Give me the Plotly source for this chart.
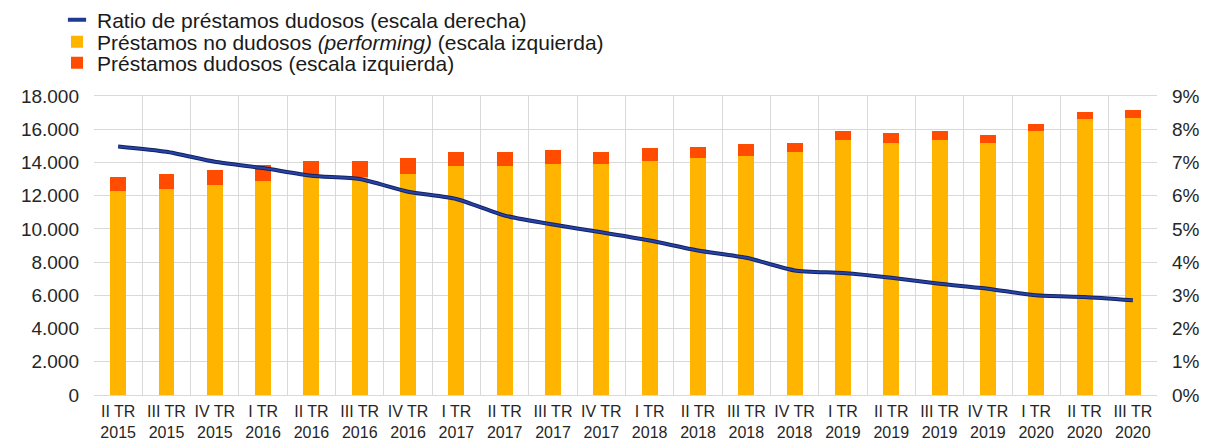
import plotly.graph_objects as go

quarters = ["II TR<br>2015", "III TR<br>2015", "IV TR<br>2015",
            "I TR<br>2016", "II TR<br>2016", "III TR<br>2016", "IV TR<br>2016",
            "I TR<br>2017", "II TR<br>2017", "III TR<br>2017", "IV TR<br>2017",
            "I TR<br>2018", "II TR<br>2018", "III TR<br>2018", "IV TR<br>2018",
            "I TR<br>2019", "II TR<br>2019", "III TR<br>2019", "IV TR<br>2019",
            "I TR<br>2020", "II TR<br>2020", "III TR<br>2020"]

performing = [12300, 12400, 12650, 12900, 13200, 13150, 13300,
              13780, 13780, 13900, 13900, 14100, 14240, 14360, 14600,
              15340, 15200, 15340, 15200, 15900, 16600, 16700]

npl = [850, 900, 900, 960, 900, 950, 960,
       860, 820, 840, 700, 740, 720, 740, 600,
       560, 600, 560, 460, 440, 460, 460]

npl_ratio = [7.48, 7.32, 7.02, 6.83, 6.60, 6.50, 6.12,
             5.90, 5.40, 5.13, 4.90, 4.65, 4.35, 4.13, 3.75,
             3.67, 3.53, 3.35, 3.20, 3.00, 2.95, 2.85]

names = ["Ratio de préstamos dudosos (escala derecha)",
         "Préstamos no dudosos <i>(performing)</i> (escala izquierda)",
         "Préstamos dudosos (escala izquierda)"]

FONT = "Liberation Sans, Arial, sans-serif"
GRID = "#d9d9d9"
TXT = "#262626"
BLUE = "#1f3a93"

fig = go.Figure()

fig.add_trace(go.Bar(
    x=quarters, y=performing, name=names[1], legend="legend2",
    marker=dict(color="#FFB400", line=dict(width=0)), width=0.33,
))
fig.add_trace(go.Bar(
    x=quarters, y=npl, name=names[2], legend="legend3",
    marker=dict(color="#FF4C00", line=dict(width=0)), width=0.33,
))
fig.add_trace(go.Scatter(
    x=quarters, y=npl_ratio, yaxis="y2", mode="lines", showlegend=False,
    line=dict(color="#13235a", width=4, shape="spline", smoothing=0.6),
))
fig.add_trace(go.Scatter(
    x=quarters, y=npl_ratio, yaxis="y2", mode="lines", showlegend=False,
    line=dict(color="#2643ad", width=2, shape="spline", smoothing=0.6),
))
# legend entry for the ratio line (short dash symbol)
fig.add_trace(go.Scatter(
    x=[None], y=[None], yaxis="y2", mode="markers", name=names[0],
    legend="legend",
    marker=dict(symbol="line-ew", size=13, color=BLUE, line=dict(width=4, color=BLUE)),
))

OFF = 8  # page offset


def leg(row_y):
    return dict(
        xref="container", yref="container",
        x=(57 - OFF) / 1212, y=1 - (row_y - OFF) / 447,
        xanchor="left", yanchor="middle",
        font=dict(family=FONT, size=21, color="#1a1a1a"),
        bgcolor="rgba(0,0,0,0)", borderwidth=0, itemwidth=30,
    )


fig.update_layout(
    width=1212, height=447,
    margin=dict(l=94 - OFF, r=1212 + OFF - 1157, t=96 - OFF, b=447 + OFF - 395,
                autoexpand=False),
    paper_bgcolor="white", plot_bgcolor="white",
    barmode="stack",
    separators=",.",
    font=dict(family=FONT, size=16, color=TXT),
    showlegend=True,
    legend=leg(20),
    legend2=leg(42),
    legend3=leg(63),
    xaxis=dict(
        type="category", tickson="boundaries", tickangle=0, automargin=False,
        showgrid=True, gridcolor=GRID, gridwidth=1,
        showline=True, linecolor=GRID, mirror=True,
        ticks="", tickfont=dict(family=FONT, size=16, color=TXT),
        ticklabelstandoff=2,
        range=[-0.5, 21.5],
    ),
    yaxis=dict(
        range=[0, 18000], dtick=2000, tickformat=",d", automargin=False,
        showgrid=True, gridcolor=GRID, gridwidth=1,
        zeroline=False, showline=False, ticks="",
        tickfont=dict(family=FONT, size=19, color=TXT),
        ticklabelstandoff=14,
    ),
    yaxis2=dict(
        range=[0, 9], dtick=1, ticksuffix="%", overlaying="y", side="right",
        automargin=False,
        showgrid=False, zeroline=False, showline=False, ticks="",
        tickfont=dict(family=FONT, size=19, color=TXT),
        ticklabelstandoff=14,
    ),
)

fig.write_html("out.html")
